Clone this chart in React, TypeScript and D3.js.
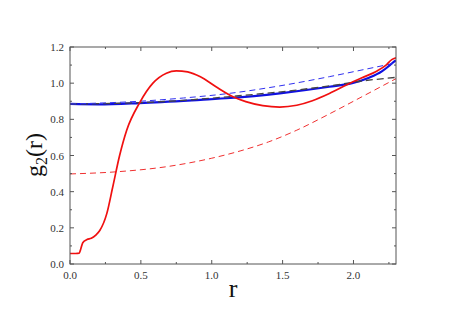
import React from "react";
import * as d3 from "d3";

// r values and g2(r), one array per curve
const redSolidR = [0, 0.04, 0.065, 0.075, 0.09, 0.12, 0.15, 0.18, 0.21, 0.26, 0.3, 0.35, 0.4, 0.49, 0.585, 0.68, 0.75, 0.83, 0.92, 1.03, 1.15, 1.24, 1.36, 1.48, 1.6, 1.71, 1.83, 1.95, 2.06, 2.16, 2.23, 2.27, 2.3];
const redSolidG = [0.058, 0.058, 0.06, 0.08, 0.118, 0.135, 0.142, 0.158, 0.185, 0.28, 0.42, 0.6, 0.74, 0.89, 1.0, 1.055, 1.068, 1.062, 1.035, 0.98, 0.925, 0.898, 0.876, 0.868, 0.878, 0.903, 0.943, 0.99, 1.03, 1.065, 1.1, 1.13, 1.14];

const blueSolidR = [0, 0.2, 0.49, 0.92, 1.13, 1.48, 1.83, 1.99, 2.11, 2.2, 2.25, 2.28, 2.3];
const blueSolidG = [0.885, 0.883, 0.89, 0.908, 0.918, 0.944, 0.98, 1.0, 1.03, 1.065, 1.095, 1.115, 1.125];

const blueDashR = [0, 0.49, 0.8, 1.13, 1.48, 1.83, 2.06, 2.3];
const blueDashG = [0.885, 0.9, 0.918, 0.944, 0.985, 1.036, 1.073, 1.112];

const blackDashR = [0, 0.49, 0.92, 1.13, 1.6, 1.83, 2.06, 2.3];
const blackDashG = [0.885, 0.892, 0.912, 0.926, 0.962, 0.985, 1.012, 1.032];

const redDashR = [0, 0.33, 0.68, 1.0, 1.2, 1.4, 1.6, 1.83, 2.06, 2.3];
const redDashG = [0.498, 0.51, 0.538, 0.585, 0.625, 0.675, 0.74, 0.83, 0.925, 1.025];

const xTicks = [0, 0.5, 1.0, 1.5, 2.0];
const xMinorTicks = [0, 0.25, 0.5, 0.75, 1.0, 1.25, 1.5, 1.75, 2.0, 2.25];
const yTicks = [0, 0.2, 0.4, 0.6, 0.8, 1.0, 1.2];
const yMinorTicks = [0, 0.1, 0.2, 0.3, 0.4, 0.5, 0.6, 0.7, 0.8, 0.9, 1.0, 1.1, 1.2];

const W = 467;
const H = 312;
const left = 70, right = 396, top = 47, bottom = 264;

export default function App() {
  const x = d3.scaleLinear().domain([0, 2.3]).range([left, right]);
  const y = d3.scaleLinear().domain([0, 1.2]).range([bottom, top]);

  const line = (rs: number[], gs: number[]) =>
    d3
      .line<number>()
      .x((_, i) => x(rs[i]))
      .y((g) => y(g))
      .curve(d3.curveMonotoneX)(gs) || "";

  const axisColor = "#555";
  const font = "'Liberation Serif', 'Times New Roman', serif";

  return (
    <svg width={W} height={H} style={{ position: "absolute", left: 0, top: 0 }}>
      <rect width={W} height={H} fill="#fff" />
      <defs>
        <clipPath id="plot">
          <rect x={left} y={top} width={right - left} height={bottom - top} />
        </clipPath>
      </defs>

      <g clipPath="url(#plot)" fill="none">
        <path d={line(blueSolidR, blueSolidG)} stroke="#1010e0" strokeWidth={2.2} />
        <path d={line(blackDashR, blackDashG)} stroke="#444" strokeWidth={1.3} strokeDasharray="7,4" />
        <path d={line(blueDashR, blueDashG)} stroke="#3030f0" strokeWidth={1} strokeDasharray="6,4" />
        <path d={line(redDashR, redDashG)} stroke="#f03030" strokeWidth={1} strokeDasharray="6,4" />
        <path d={line(redSolidR, redSolidG)} stroke="#f01010" strokeWidth={1.7} />
      </g>

      {/* frame */}
      <rect x={left} y={top} width={right - left} height={bottom - top} fill="none" stroke={axisColor} strokeWidth={1} />

      {/* x ticks, bottom and top */}
      {xMinorTicks.map((t) => {
        const major = xTicks.includes(t);
        const len = major ? 4 : 2;
        return (
          <g key={"x" + t} stroke={axisColor}>
            <line x1={x(t)} x2={x(t)} y1={bottom} y2={bottom - len} />
            <line x1={x(t)} x2={x(t)} y1={top} y2={top + len} />
          </g>
        );
      })}
      {/* y ticks, left and right */}
      {yMinorTicks.map((t) => {
        const major = yTicks.some((v) => Math.abs(v - t) < 1e-9);
        const len = major ? 4 : 2;
        return (
          <g key={"y" + t} stroke={axisColor}>
            <line x1={left} x2={left + len} y1={y(t)} y2={y(t)} />
            <line x1={right} x2={right - len} y1={y(t)} y2={y(t)} />
          </g>
        );
      })}

      {xTicks.map((t) => (
        <text key={"xl" + t} x={x(t)} y={279} textAnchor="middle" fontFamily={font} fontSize={11} fill="#333">
          {t.toFixed(1)}
        </text>
      ))}
      {yTicks.map((t) => (
        <text key={"yl" + t} x={64} y={y(t) + 4} textAnchor="end" fontFamily={font} fontSize={11} fill="#333">
          {t.toFixed(1)}
        </text>
      ))}

      <text x={233} y={297} textAnchor="middle" fontFamily={font} fontSize={26} fill="#111">
        r
      </text>
      <text transform="translate(42,155) rotate(-90)" textAnchor="middle" fontFamily={font} fontSize={24} fill="#111">
        g<tspan fontSize={16} dy={5}>2</tspan>
        <tspan dy={-5}>(r)</tspan>
      </text>
    </svg>
  );
}
